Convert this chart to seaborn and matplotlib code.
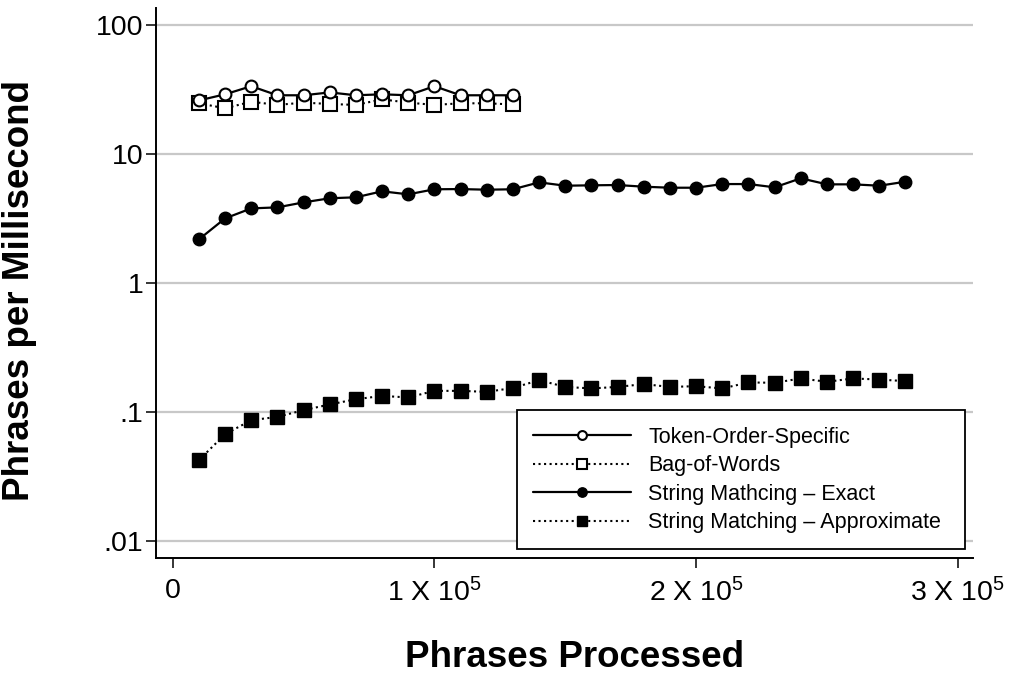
import matplotlib
matplotlib.use("Agg")
import matplotlib.pyplot as plt
import seaborn as sns
from matplotlib.ticker import FixedLocator, FixedFormatter, NullLocator

# ---------------- data ----------------
x_short = [10000, 20000, 30000, 40000, 50000, 60000, 70000, 80000, 90000,
           100000, 110000, 120000, 130000]
x_long = [10000, 20000, 30000, 40000, 50000, 60000, 70000, 80000, 90000,
          100000, 110000, 120000, 130000, 140000, 150000, 160000, 170000,
          180000, 190000, 200000, 210000, 220000, 230000, 240000, 250000,
          260000, 270000, 280000]

token_order = [26.0, 29.0, 33.5, 28.5, 28.5, 30.0, 28.5, 29.0, 28.5,
               33.5, 28.5, 28.5, 28.5]
bag_of_words = [24.7, 22.6, 25.4, 24.0, 25.0, 24.4, 24.0, 26.5, 25.0,
                24.0, 24.7, 24.7, 24.2]
exact = [2.18, 3.17, 3.79, 3.86, 4.22, 4.54, 4.62, 5.14, 4.87, 5.33,
         5.35, 5.29, 5.33, 6.03, 5.68, 5.72, 5.75, 5.58, 5.48, 5.48,
         5.85, 5.85, 5.52, 6.48, 5.82, 5.82, 5.68, 6.10]
approx = [0.0425, 0.0675, 0.0867, 0.092, 0.1037, 0.1148, 0.126, 0.1337,
          0.130, 0.1463, 0.1463, 0.1437, 0.154, 0.177, 0.157, 0.1527,
          0.157, 0.165, 0.157, 0.159, 0.1527, 0.170, 0.169, 0.1825, 0.172,
          0.1825, 0.179, 0.174]

series_labels = ["Token-Order-Specific", "Bag-of-Words",
                 "String Mathcing \u2013 Exact",
                 "String Matching \u2013 Approximate"]

y_ticks = [0.01, 0.1, 1, 10, 100]
y_tick_labels = [".01", ".1", "1", "10", "100"]
x_ticks = [0, 100000, 200000, 300000]
x_tick_labels = ["0", "1 X 10$^5$", "2 X 10$^5$", "3 X 10$^5$"]

x_label = "Phrases Processed"
y_label = "Phrases per Millisecond"

# ---------------- style ----------------
sns.set_theme(style="white")
plt.rcParams["font.family"] = ["Liberation Sans", "DejaVu Sans"]
plt.rcParams["mathtext.default"] = "regular"
plt.rcParams["text.color"] = "black"
plt.rcParams["axes.labelcolor"] = "black"
plt.rcParams["xtick.color"] = "black"
plt.rcParams["ytick.color"] = "black"

fig = plt.figure(figsize=(10.21, 6.73), dpi=100)
ax = fig.add_axes([0.1525, 0.1704, 0.953 - 0.1525, 0.988 - 0.1704])

sns.lineplot(x=x_short, y=token_order, ax=ax, color="black", lw=1.6,
             linestyle="-", marker="o", markersize=8.5,
             markerfacecolor="white", markeredgecolor="black",
             markeredgewidth=1.5, label=series_labels[0], zorder=4)
sns.lineplot(x=x_short, y=bag_of_words, ax=ax, color="black", lw=1.5,
             linestyle=":", marker="s", markersize=9.5,
             markerfacecolor="white", markeredgecolor="black",
             markeredgewidth=1.5, label=series_labels[1], zorder=3)
sns.lineplot(x=x_long, y=exact, ax=ax, color="black", lw=1.6,
             linestyle="-", marker="o", markersize=9,
             markerfacecolor="black", markeredgecolor="black",
             markeredgewidth=1.0, label=series_labels[2], zorder=3)
sns.lineplot(x=x_long, y=approx, ax=ax, color="black", lw=1.5,
             linestyle=":", marker="s", markersize=9.5,
             markerfacecolor="black", markeredgecolor="black",
             markeredgewidth=1.0, label=series_labels[3], zorder=3)

ax.set_yscale("log")
ax.set_ylim(0.00738, 135)
ax.set_xlim(-6500, 305800)

ax.yaxis.set_major_locator(FixedLocator(y_ticks))
ax.yaxis.set_major_formatter(FixedFormatter(y_tick_labels))
ax.yaxis.set_minor_locator(NullLocator())
ax.xaxis.set_major_locator(FixedLocator(x_ticks))
ax.xaxis.set_major_formatter(FixedFormatter(x_tick_labels))

ax.grid(axis="y", color="#c8c8c8", lw=1.6, zorder=0)
ax.grid(axis="x", visible=False)
ax.set_axisbelow(True)

for side in ["top", "right"]:
    ax.spines[side].set_visible(False)
for side in ["left", "bottom"]:
    ax.spines[side].set_color("black")
    ax.spines[side].set_linewidth(1.4)

ax.tick_params(axis="y", which="major", direction="out", length=7.5,
               width=1.1, color="black", labelsize=20.5, pad=1.5,
               left=True, labelcolor="black")
ax.tick_params(axis="x", which="major", direction="out", length=7.5,
               width=1.1, color="black", labelsize=20.5, pad=7,
               bottom=True, labelcolor="black")

ax.set_xlabel(x_label, fontsize=26.5, fontweight="bold", color="black")
ax.set_ylabel(y_label, fontsize=26.5, fontweight="bold", color="black")
ax.xaxis.set_label_coords(0.513, -0.148)
ax.yaxis.set_label_coords(-0.145, 0.487)

leg = ax.legend(loc="lower left", bbox_to_anchor=(0.442, 0.0163, 0.548, 0.252),
                mode="expand", borderaxespad=0, fontsize=15.5,
                handlelength=4.55, handletextpad=0.8, labelspacing=0.35,
                borderpad=0.75, frameon=True, fancybox=False,
                markerscale=0.75)
leg.get_frame().set_edgecolor("black")
leg.get_frame().set_linewidth(1.3)
leg.get_frame().set_facecolor("white")
leg.get_frame().set_alpha(1)
for t in leg.get_texts():
    t.set_color("black")

fig.savefig("out.png", dpi=100)
